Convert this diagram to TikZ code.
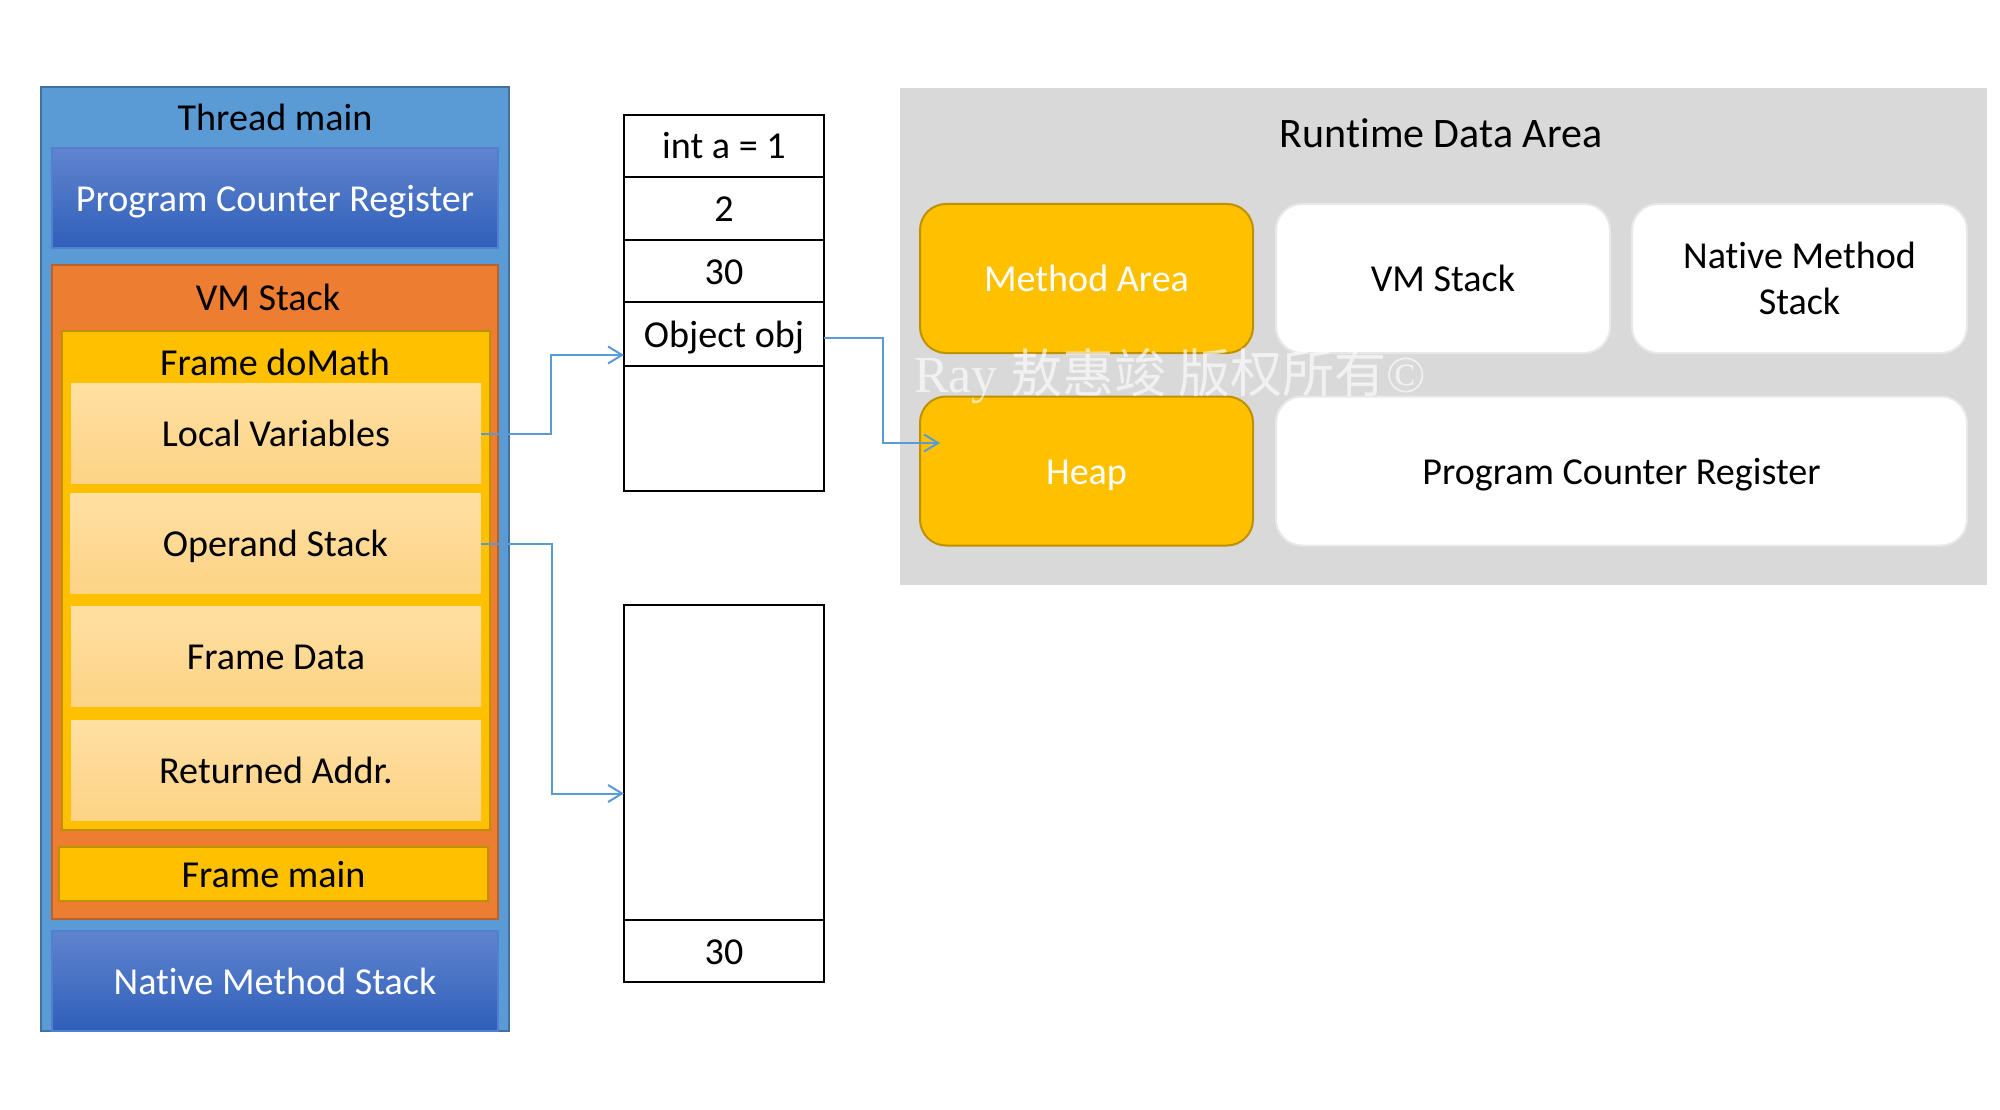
\documentclass[tikz,border=0pt]{standalone}
\usepackage{fontspec}
\setmainfont{Carlito}[Ligatures=NoCommon]
\newfontfamily\cjkfont{Noto Sans CJK SC}
\newfontfamily\wmserif{Liberation Serif}
\usetikzlibrary{arrows.meta,calc}
\definecolor{threadblue}{RGB}{91,155,213}
\definecolor{threadborder}{RGB}{65,113,156}
\definecolor{pcrtop}{RGB}{96,132,206}
\definecolor{pcrbot}{RGB}{47,95,186}
\definecolor{pcrborder}{RGB}{82,128,208}
\definecolor{vmorange}{RGB}{237,125,49}
\definecolor{vmborder}{RGB}{182,98,42}
\definecolor{frameyellow}{RGB}{255,192,0}
\definecolor{frameborder}{RGB}{191,144,0}
\definecolor{peachtop}{RGB}{255,224,162}
\definecolor{peachbot}{RGB}{253,211,134}
\definecolor{arrowblue}{RGB}{91,155,213}
\definecolor{rdagray}{RGB}{217,217,217}
\definecolor{wborder}{RGB}{232,232,232}
\tikzset{
  txt/.style={font=\fontsize{38.1pt}{46pt}\selectfont, text height=31pt, text depth=5pt},
  lbl/.style={txt, inner sep=0pt, outer sep=0pt},
  rbox/.style={rectangle, inner sep=0pt, outer sep=0pt, txt},
  bluebox/.style={rbox, top color=pcrtop, bottom color=pcrbot, draw=pcrborder, line width=2pt, text=white,
    minimum width=446pt, minimum height=100pt},
  peachbox/.style={rbox, top color=peachtop, bottom color=peachbot, minimum width=410pt, minimum height=100pt},
  cell/.style={rbox, draw=black, line width=2.5pt, fill=white, minimum width=200pt},
  arr/.style={draw=arrowblue, line width=2pt, -{Straight Barb[length=14pt,width=17pt,line width=2pt]}},
  ybox/.style={rbox, fill=frameyellow, draw=frameborder, line width=2pt, rounded corners=26pt,
    minimum height=149pt, text=white},
  wbox/.style={rbox, fill=white, draw=wborder, line width=2pt, rounded corners=26pt,
    minimum height=149pt, align=center},
}
\begin{document}
\begin{tikzpicture}[x=1pt,y=-1pt]
\useasboundingbox (0,0) rectangle (2000,1110);
\fill[white] (0,0) rectangle (2000,1110);

% ---- Thread main ----
\node[rbox, fill=threadblue, draw=threadborder, line width=2pt, minimum width=468pt, minimum height=944pt] (thread) at (275,559) {};
\node[lbl] (threadlbl) at (275,118) {Thread main};
\node[bluebox] (pcrL) at (275,198.5) {Program Counter Register};
\node[rbox, fill=vmorange, draw=vmborder, line width=2pt, minimum width=446pt, minimum height=654pt] (vms) at (275,592) {};
\node[lbl] (vmslbl) at (268,297) {VM Stack};
\node[rbox, fill=frameyellow, draw=frameborder, line width=2pt, minimum width=428pt, minimum height=499pt] (domath) at (276,580.5) {};
\node[lbl] (domathlbl) at (275,362) {Frame doMath};
\node[peachbox] (lv) at (276,433.5) {Local Variables};
\node[peachbox] (os) at (275.5,543.5) {Operand Stack};
\node[peachbox] (fd) at (276,656) {Frame Data};
\node[peachbox] (ra) at (276,770.5) {Returned Addr.};
\node[rbox, fill=frameyellow, draw=frameborder, line width=2pt, minimum width=429pt, minimum height=54pt] (fmain) at (273.5,874) {Frame main};
\node[bluebox] (nmsL) at (275,981) {Native Method Stack};

% ---- stack columns ----
\node[cell, minimum height=62pt] (s1) at (724,146) {int a = 1};
\node[cell, minimum height=63pt] (s2) at (724,208.5) {2};
\node[cell, minimum height=62pt] (s3) at (724,271) {30};
\node[cell, minimum height=64pt] (s4) at (724,334) {Object obj};
\node[cell, minimum height=125pt] (s5) at (724,428.5) {};
\node[cell, minimum height=315pt] (t1) at (724,762.5) {};
\node[cell, minimum height=62pt] (t2) at (724,951) {30};

% ---- runtime data area ----
\node[rbox, fill=rdagray, minimum width=1087pt, minimum height=497pt] (rda) at (1443.5,336.5) {};
\node[lbl, font=\fontsize{42pt}{50pt}\selectfont] (rdalbl) at (1441,135) {Runtime Data Area};
\node[ybox, minimum width=333pt] (ma) at (1086.5,278.5) {Method Area};
\node[wbox, minimum width=334pt] (vmR) at (1443,278.5) {VM Stack};
\node[wbox, minimum width=335pt, text height={}, text depth={}] (nmsR) at (1799.5,278.5) {Native Method\\Stack};
\node[ybox, minimum width=333pt] (heap) at (1086.5,471) {Heap};
\node[wbox, minimum width=691pt] (pcrR) at (1621.5,471) {Program Counter Register};

% ---- connectors ----
\draw[arr] (lv.east) -- ++(70,0) |- ([yshift=-21pt]s4.west);
\draw[arr] (os.east) -- ++(71,0) |- ([yshift=-31pt]t1.west);
\draw[arr] ([yshift=-4pt]s4.east) -- ++(59,0) |- ([xshift=20pt,yshift=28pt]heap.west);

% ---- watermark ----
\node[inner sep=0pt, text=white, opacity=0.65] (wm) at (1170,376)
  {\fontsize{52pt}{52pt}\selectfont\wmserif Ray \cjkfont 敖惠竣 版权所有\wmserif ©};
\end{tikzpicture}
\end{document}
